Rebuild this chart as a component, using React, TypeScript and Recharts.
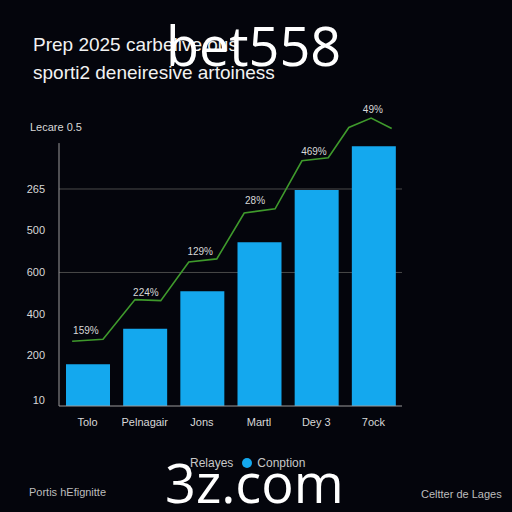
import React from 'react';
import {
  ComposedChart,
  Bar,
  Line,
  XAxis,
  YAxis,
  CartesianGrid,
  ReferenceLine,
  LabelList,
} from 'recharts';

const categories = ['Tolo', 'Pelnagair', 'Jons', 'Martl', 'Dey 3', '7ock'];
const barValues = [40, 74, 110, 157, 207, 249];

const yTicks = [6, 49, 88, 128, 169, 208];
const yTickLabels = ['10', '200', '400', '600', '500', '265'];
const gridValues = [128, 208];

const lineX = [0.23, 0.77, 1.33, 1.78, 2.27, 2.76, 3.24, 3.78, 4.25, 4.71, 5.07, 5.46, 5.82];
const lineY = [62, 64, 102, 101, 138, 141, 185, 189, 235, 238, 267, 276, 266];

const pctX = [0.47, 1.52, 2.47, 3.43, 4.46, 5.49];
const pctY = [64, 101, 140, 189, 236, 276];
const pctLabels = ['159%', '224%', '129%', '28%', '469%', '49%'];

const barData = categories.map((name, i) => ({ name, v: barValues[i] }));
const lineData = lineX.map((x, i) => ({ x, y: lineY[i] }));
const pctData = pctX.map((x, i) => ({ x, y: pctY[i], label: pctLabels[i] }));

const BG = '#04050c';
const BLUE = '#14a8ee';
const GREEN = '#3f9a2c';
const TXT = '#d8d8d8';

const abs = (x: number, y: number, extra: React.CSSProperties = {}): React.CSSProperties => ({
  position: 'absolute',
  left: x,
  top: y,
  whiteSpace: 'nowrap',
  ...extra,
});

const App = () => {
  return (
    <div
      style={{
        position: 'fixed',
        left: 0,
        top: 0,
        width: 512,
        height: 512,
        background: BG,
        fontFamily: '"Liberation Sans", Arial, sans-serif',
        overflow: 'hidden',
      }}
    >
      <div style={abs(33, 31, { color: '#f2f2f2', fontSize: 19, lineHeight: '28px' })}>
        Prep 2025 carbelive ous
        <br />
        sporti2 deneiresive artoiness
      </div>

      <div style={abs(30, 121, { color: TXT, fontSize: 11 })}>Lecare 0.5</div>

      <ComposedChart
        width={512}
        height={512}
        data={barData}
        margin={{ top: 93, right: 110, bottom: 86, left: 9 }}
        style={{ position: 'absolute', left: 0, top: 0 }}
      >
        <CartesianGrid
          xAxisId="cat"
          vertical={false}
          horizontalValues={gridValues}
          stroke="#4a4a4a"
        />
        <XAxis
          xAxisId="cat"
          dataKey="name"
          axisLine={{ stroke: '#9a9a9a' }}
          tickLine={false}
          tickMargin={6}
          height={20}
          tick={{ fill: TXT, fontSize: 11 }}
          interval={0}
        />
        <XAxis xAxisId="line" type="number" dataKey="x" domain={[0, 6]} hide allowDataOverflow />
        <YAxis
          type="number"
          domain={[0, 300]}
          ticks={yTicks}
          tickFormatter={(v: number) => yTickLabels[yTicks.indexOf(v)] ?? ''}
          axisLine={false}
          tickLine={false}
          tickMargin={8}
          width={50}
          tick={{ fill: TXT, fontSize: 11 }}
          interval={0}
        />
        <ReferenceLine
          xAxisId="line"
          segment={[{ x: 0, y: 0 }, { x: 0, y: 252 }]}
          stroke="#9a9a9a"
        />
        <Bar xAxisId="cat" dataKey="v" fill={BLUE} barSize={44} isAnimationActive={false} />
        <Line
          xAxisId="line"
          data={lineData}
          dataKey="y"
          type="linear"
          stroke={GREEN}
          strokeWidth={1.6}
          dot={false}
          isAnimationActive={false}
        />
        <Line
          xAxisId="line"
          data={pctData}
          dataKey="y"
          stroke="none"
          dot={false}
          isAnimationActive={false}
        >
          <LabelList dataKey="label" position="top" fill={TXT} fontSize={10} />
        </Line>
      </ComposedChart>

      <div style={abs(190, 456, { color: '#c8c8c8', fontSize: 12, display: 'flex', alignItems: 'center' })}>
        <span>Relayes</span>
        <span
          style={{
            display: 'inline-block',
            width: 10,
            height: 10,
            borderRadius: 5,
            background: BLUE,
            margin: '0 5px 0 9px',
          }}
        />
        <span>Conption</span>
      </div>

      <div style={abs(29, 486, { color: '#bdbdbd', fontSize: 11 })}>Portis hEfignitte</div>
      <div style={abs(421, 488, { color: '#bdbdbd', fontSize: 11 })}>Celtter de Lages</div>

      <div style={abs(166, 18, { color: '#ffffff', fontSize: 54, fontFamily: '"Open Sans", sans-serif', lineHeight: '54px' })}>
        bet558
      </div>
      <div style={abs(165, 455, { color: '#ffffff', fontSize: 54, fontFamily: '"Open Sans", sans-serif', lineHeight: '54px' })}>
        3z.com
      </div>
    </div>
  );
};

export default App;
